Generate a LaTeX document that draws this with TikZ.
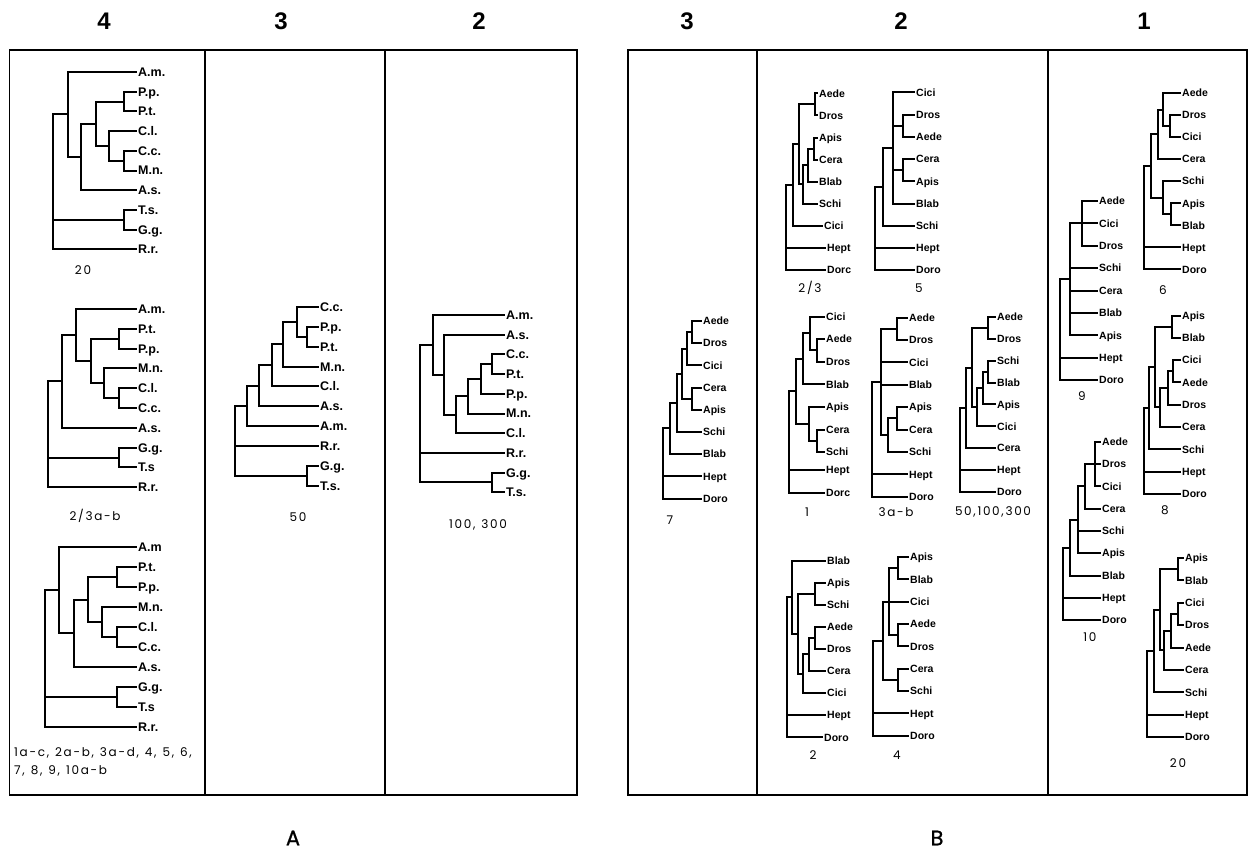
\documentclass[tikz,border=0pt]{standalone}
\usepackage{fontspec}
\setmainfont{Liberation Sans}
\newfontfamily\capfont[LetterSpace=14]{Poppins}
\newfontfamily\abfont[FakeBold=0.8]{Poppins}
\newcommand\capstyle{\capfont\fontsize{12}{18.5}\selectfont\spaceskip=6pt\relax}

% tree helpers: leaf rows are placed at ybase + ystep*k
\newcommand\ybase{0}
\newcommand\ystep{1}
\newcommand\settree[2]{\renewcommand\ybase{#1}\renewcommand\ystep{#2}}
\newcommand\lf[4]{\node[leaf] (#1) at (#2,{\ybase+\ystep*(#3)}) {#4};}
\newcommand\nd[3]{\coordinate (#1) at (#2,{\ybase+\ystep*(#3)});}
\newcommand\br[2]{\foreach \kid in {#2} {\draw[brline] (#1) |- (\kid);}}

\tikzset{
  brline/.style={line width=2pt},
  frameline/.style={line width=1.3pt},
  leafA/.style={anchor=west, inner sep=1pt, text height=8.9pt, text depth=0pt,
    font=\bfseries\fontsize{12.5}{12.5}\selectfont},
  leafB/.style={anchor=west, inner sep=1pt, text height=7.5pt, text depth=0pt,
    font=\bfseries\fontsize{10.5}{10.5}\selectfont},
  captxt/.style={inner sep=0pt, font=\capstyle},
  headtxt/.style={inner sep=0pt, font=\bfseries\fontsize{24}{24}\selectfont},
  paneltxt/.style={inner sep=0pt, font=\abfont\fontsize{21}{21}\selectfont}
}

\begin{document}
\begin{tikzpicture}[x=1pt,y=-1pt]
\fill[white] (0,0) rectangle (1252,864);

% ---------- frames ----------
\draw[frameline] (9.5,50) rectangle (577,795);
\draw[frameline] (205,50) -- (205,795);
\draw[frameline] (385,50) -- (385,795);
\draw[frameline] (628,50) rectangle (1247,795);
\draw[frameline] (757,50) -- (757,795);
\draw[frameline] (1048,50) -- (1048,795);

% ---------- column headings ----------
\node[headtxt] (hA4) at (104,21) {4};
\node[headtxt] (hA3) at (281,21) {3};
\node[headtxt] (hA2) at (479,21) {2};
\node[headtxt] (hB3) at (687,21) {3};
\node[headtxt] (hB2) at (901,21) {2};
\node[headtxt] (hB1) at (1144,21) {1};

\node[paneltxt] (pA) at (293,838) {A};
\node[paneltxt] (pB) at (937,838) {B};

% ================= panel A =================
\begin{scope}[leaf/.style=leafA]
% --- column 4, top ---
\settree{72}{19.7}
\lf{aa0}{137}{0}{A.m.}
\lf{aa1}{137}{1}{P.p.}
\lf{aa2}{137}{2}{P.t.}
\lf{aa3}{137}{3}{C.l.}
\lf{aa4}{137}{4}{C.c.}
\lf{aa5}{137}{5}{M.n.}
\lf{aa6}{137}{6}{A.s.}
\lf{aa7}{137}{7}{T.s.}
\lf{aa8}{137}{8}{G.g.}
\lf{aa9}{137}{9}{R.r.}
\nd{aaa}{124}{1.5}   \br{aaa}{aa1,aa2}
\nd{aab}{124}{4.5}   \br{aab}{aa4,aa5}
\nd{aac}{109}{3.75}  \br{aac}{aa3,aab}
\nd{aad}{96}{2.625}  \br{aad}{aaa,aac}
\nd{aae}{81}{4.3125} \br{aae}{aad,aa6}
\nd{aaf}{68}{2.156}  \br{aaf}{aa0,aae}
\nd{aag}{124}{7.5}   \br{aag}{aa7,aa8}
\nd{aar}{53}{5.6}    \br{aar}{aaf,aag,aa9}
\node[captxt] (caa) at (83,270) {20};

% --- column 4, middle ---
\settree{309}{19.8}
\lf{ab0}{137}{0}{A.m.}
\lf{ab1}{137}{1}{P.t.}
\lf{ab2}{137}{2}{P.p.}
\lf{ab3}{137}{3}{M.n.}
\lf{ab4}{137}{4}{C.l.}
\lf{ab5}{137}{5}{C.c.}
\lf{ab6}{137}{6}{A.s.}
\lf{ab7}{137}{7}{G.g.}
\lf{ab8}{137}{8}{T.s}
\lf{ab9}{137}{9}{R.r.}
\nd{aba}{119}{1.5}    \br{aba}{ab1,ab2}
\nd{abb}{119}{4.5}    \br{abb}{ab4,ab5}
\nd{abc}{104}{3.75}   \br{abc}{ab3,abb}
\nd{abd}{91}{2.625}   \br{abd}{aba,abc}
\nd{abe}{76}{1.3125}  \br{abe}{ab0,abd}
\nd{abf}{62}{3.656}   \br{abf}{abe,ab6}
\nd{abg}{119}{7.5}    \br{abg}{ab7,ab8}
\nd{abr}{48}{6.3}     \br{abr}{abf,abg,ab9}
\node[captxt] (cab) at (95,516) {2/3a-b};

% --- column 4, bottom ---
\settree{547}{20}
\lf{ac0}{137}{0}{A.m}
\lf{ac1}{137}{1}{P.t.}
\lf{ac2}{137}{2}{P.p.}
\lf{ac3}{137}{3}{M.n.}
\lf{ac4}{137}{4}{C.l.}
\lf{ac5}{137}{5}{C.c.}
\lf{ac6}{137}{6}{A.s.}
\lf{ac7}{137}{7}{G.g.}
\lf{ac8}{137}{8}{T.s}
\lf{ac9}{137}{9}{R.r.}
\nd{aca}{116.7}{1.5}   \br{aca}{ac1,ac2}
\nd{acb}{116.7}{4.5}   \br{acb}{ac4,ac5}
\nd{acc}{101.7}{3.75}  \br{acc}{ac3,acb}
\nd{acd}{88.3}{2.625}  \br{acd}{aca,acc}
\nd{ace}{74}{4.3125}   \br{ace}{acd,ac6}
\nd{acf}{59.3}{2.156}  \br{acf}{ac0,ace}
\nd{acg}{116.7}{7.5}   \br{acg}{ac7,ac8}
\nd{acr}{45}{5.6}      \br{acr}{acf,acg,ac9}
\node[captxt, anchor=west, align=left] (cac) at (14,762)
  {1a-c, 2a-b, 3a-d, 4, 5, 6,\\7, 8, 9, 10a-b};

% --- column 3 ---
\settree{307}{19.85}
\lf{ad0}{319}{0}{C.c.}
\lf{ad1}{319}{1}{P.p.}
\lf{ad2}{319}{2}{P.t.}
\lf{ad3}{319}{3}{M.n.}
\lf{ad4}{319}{4}{C.l.}
\lf{ad5}{319}{5}{A.s.}
\lf{ad6}{319}{6}{A.m.}
\lf{ad7}{319}{7}{R.r.}
\lf{ad8}{319}{8}{G.g.}
\lf{ad9}{319}{9}{T.s.}
\nd{ada}{307.3}{1.5}    \br{ada}{ad1,ad2}
\nd{adb}{296.7}{0.75}   \br{adb}{ad0,ada}
\nd{adc}{283.3}{1.875}  \br{adc}{adb,ad3}
\nd{add}{271.7}{2.9375} \br{add}{adc,ad4}
\nd{ade}{259.3}{3.97}   \br{ade}{add,ad5}
\nd{adf}{246.7}{4.98}   \br{adf}{ade,ad6}
\nd{adg}{307.3}{8.5}    \br{adg}{ad8,ad9}
\nd{adr}{235}{6.7}      \br{adr}{adf,ad7,adg}
\node[captxt] (cad) at (298,517) {50};

% --- column 2 ---
\settree{315}{19.7}
\lf{ae0}{505}{0}{A.m.}
\lf{ae1}{505}{1}{A.s.}
\lf{ae2}{505}{2}{C.c.}
\lf{ae3}{505}{3}{P.t.}
\lf{ae4}{505}{4}{P.p.}
\lf{ae5}{505}{5}{M.n.}
\lf{ae6}{505}{6}{C.l.}
\lf{ae7}{505}{7}{R.r.}
\lf{ae8}{505}{8}{G.g.}
\lf{ae9}{505}{9}{T.s.}
\nd{aea}{492.3}{2.5}   \br{aea}{ae2,ae3}
\nd{aeb}{481}{3.25}    \br{aeb}{aea,ae4}
\nd{aec}{468.3}{4.125} \br{aec}{aeb,ae5}
\nd{aed}{456}{5.06}    \br{aed}{aec,ae6}
\nd{aee}{444.3}{3.03}  \br{aee}{ae1,aed}
\nd{aef}{433.3}{1.52}  \br{aef}{ae0,aee}
\nd{aeg}{492.3}{8.5}   \br{aeg}{ae8,ae9}
\nd{aer}{420}{5}       \br{aer}{aef,ae7,aeg}
\node[captxt] (cae) at (478,525) {100, 300};
\end{scope}

% ================= panel B =================
\begin{scope}[leaf/.style=leafB]
% --- column 3 ---
\settree{321}{22.2}
\lf{ba0}{702}{0}{Aede}
\lf{ba1}{702}{1}{Dros}
\lf{ba2}{702}{2}{Cici}
\lf{ba3}{702}{3}{Cera}
\lf{ba4}{702}{4}{Apis}
\lf{ba5}{702}{5}{Schi}
\lf{ba6}{702}{6}{Blab}
\lf{ba7}{702}{7}{Hept}
\lf{ba8}{702}{8}{Doro}
\nd{baa}{691.7}{0.5}   \br{baa}{ba0,ba1}
\nd{bab}{687.3}{1.25}  \br{bab}{baa,ba2}
\nd{bac}{691.7}{3.5}   \br{bac}{ba3,ba4}
\nd{bad}{681.7}{2.375} \br{bad}{bab,bac}
\nd{bae}{676.7}{3.69}  \br{bae}{bad,ba5}
\nd{baf}{670}{4.84}    \br{baf}{bae,ba6}
\nd{bar}{663.3}{6.4}   \br{bar}{baf,ba7,ba8}
\node[captxt] (cba) at (670,520) {7};

% --- column 2: 2/3 ---
\settree{93.5}{22}
\lf{bb0}{818}{0}{Aede}
\lf{bb1}{818}{1}{Dros}
\lf{bb2}{818}{2}{Apis}
\lf{bb3}{818}{3}{Cera}
\lf{bb4}{818}{4}{Blab}
\lf{bb5}{818}{5}{Schi}
\lf{bb6}{823}{6}{Cici}
\lf{bb7}{826}{7}{Hept}
\lf{bb8}{826}{8}{Dorc}
\nd{bba}{815}{0.5}    \br{bba}{bb0,bb1}
\nd{bbb}{814}{2.5}    \br{bbb}{bb2,bb3}
\nd{bbc}{808.3}{3.25} \br{bbc}{bbb,bb4}
\nd{bbd}{803.3}{4.125}\br{bbd}{bbc,bb5}
\nd{bbe}{799}{2.3125} \br{bbe}{bba,bbd}
\nd{bbf}{793.3}{4.156}\br{bbf}{bbe,bb6}
\nd{bbr}{786}{6}      \br{bbr}{bbf,bb7,bb8}
\node[captxt] (cbb) at (810,288) {2/3};

% --- column 2: 5 ---
\settree{92.5}{22.2}
\lf{bc0}{915}{0}{Cici}
\lf{bc1}{915}{1}{Dros}
\lf{bc2}{915}{2}{Aede}
\lf{bc3}{915}{3}{Cera}
\lf{bc4}{915}{4}{Apis}
\lf{bc5}{915}{5}{Blab}
\lf{bc6}{915}{6}{Schi}
\lf{bc7}{915}{7}{Hept}
\lf{bc8}{915}{8}{Doro}
\nd{bca}{903.3}{1.5}  \br{bca}{bc1,bc2}
\nd{bcb}{903.3}{3.5}  \br{bcb}{bc3,bc4}
\nd{bcc}{893.3}{2.5}  \br{bcc}{bc0,bca,bcb,bc5}
\nd{bcd}{883.3}{4.25} \br{bcd}{bcc,bc6}
\nd{bcr}{875}{6.1}    \br{bcr}{bcd,bc7,bc8}
\node[captxt] (cbc) at (919,288) {5};

% --- column 2: 1 ---
\settree{316.5}{22.6}
\lf{bd0}{825}{0}{Cici}
\lf{bd1}{825}{1}{Aede}
\lf{bd2}{825}{2}{Dros}
\lf{bd3}{825}{3}{Blab}
\lf{bd4}{825}{4}{Apis}
\lf{bd5}{825}{5}{Cera}
\lf{bd6}{825}{6}{Schi}
\lf{bd7}{825}{6.8}{Hept}
\lf{bd8}{825}{7.8}{Dorc}
\nd{bda}{816.7}{1.5}  \br{bda}{bd1,bd2}
\nd{bdb}{810}{0.75}   \br{bdb}{bd0,bda}
\nd{bdc}{802.7}{1.875}\br{bdc}{bdb,bd3}
\nd{bdd}{816.7}{5.5}  \br{bdd}{bd5,bd6}
\nd{bde}{809.3}{4.75} \br{bde}{bd4,bdd}
\nd{bdf}{796}{3.31}   \br{bdf}{bdc,bde}
\nd{bdr}{789.3}{5.5}  \br{bdr}{bdf,bd7,bd8}
\node[captxt] (cbd) at (807,512) {1};

% --- column 2: 3a-b ---
\settree{317.5}{22.4}
\lf{be0}{908}{0}{Aede}
\lf{be1}{908}{1}{Dros}
\lf{be2}{908}{2}{Cici}
\lf{be3}{908}{3}{Blab}
\lf{be4}{908}{4}{Apis}
\lf{be5}{908}{5}{Cera}
\lf{be6}{908}{6}{Schi}
\lf{be7}{908}{7}{Hept}
\lf{be8}{908}{8}{Doro}
\nd{bea}{897.3}{0.5}  \br{bea}{be0,be1}
\nd{beb}{897.3}{4.5}  \br{beb}{be4,be5}
\nd{bec}{887.7}{5.25} \br{bec}{beb,be6}
\nd{bed}{880.7}{2.875}\br{bed}{bea,be2,be3,bec}
\nd{ber}{871.7}{5.4}  \br{ber}{bed,be7,be8}
\node[captxt] (cbe) at (896,512) {3a-b};

% --- column 2: 50,100,300 ---
\settree{317}{21.85}
\lf{bf0}{996}{0}{Aede}
\lf{bf1}{996}{1}{Dros}
\lf{bf2}{996}{2}{Schi}
\lf{bf3}{996}{3}{Blab}
\lf{bf4}{996}{4}{Apis}
\lf{bf5}{996}{5}{Cici}
\lf{bf6}{996}{6}{Cera}
\lf{bf7}{996}{7}{Hept}
\lf{bf8}{996}{8}{Doro}
\nd{bfa}{988.3}{0.5}   \br{bfa}{bf0,bf1}
\nd{bfb}{988.3}{2.5}   \br{bfb}{bf2,bf3}
\nd{bfc}{982.7}{3.25}  \br{bfc}{bfb,bf4}
\nd{bfd}{976.7}{4.125} \br{bfd}{bfc,bf5}
\nd{bfe}{971.7}{2.3125}\br{bfe}{bfa,bfd}
\nd{bff}{965.7}{4.156} \br{bff}{bfe,bf6}
\nd{bfr}{960}{6.1}     \br{bfr}{bff,bf7,bf8}
\node[captxt] (cbf) at (993,512) {50,100,300};

% --- column 2: 2 ---
\settree{560.5}{22.1}
\lf{bg0}{826}{0}{Blab}
\lf{bg1}{826}{1}{Apis}
\lf{bg2}{826}{2}{Schi}
\lf{bg3}{826}{3}{Aede}
\lf{bg4}{826}{4}{Dros}
\lf{bg5}{826}{5}{Cera}
\lf{bg6}{826}{6}{Cici}
\lf{bg7}{826}{7}{Hept}
\lf{bg8}{823}{8}{Doro}
\nd{bga}{815}{1.5}    \br{bga}{bg1,bg2}
\nd{bgb}{815}{3.5}    \br{bgb}{bg3,bg4}
\nd{bgc}{809.3}{4.25} \br{bgc}{bgb,bg5}
\nd{bgd}{803.3}{5.125}\br{bgd}{bgc,bg6}
\nd{bge}{798.3}{3.31} \br{bge}{bga,bgd}
\nd{bgf}{792.3}{1.656}\br{bgf}{bg0,bge}
\nd{bgr}{786.7}{4.8}  \br{bgr}{bgf,bg7,bg8}
\node[captxt] (cbg) at (813,755) {2};

% --- column 2: 4 ---
\settree{557}{22.35}
\lf{bh0}{909}{0}{Apis}
\lf{bh1}{909}{1}{Blab}
\lf{bh2}{909}{2}{Cici}
\lf{bh3}{909}{3}{Aede}
\lf{bh4}{909}{4}{Dros}
\lf{bh5}{909}{5}{Cera}
\lf{bh6}{909}{6}{Schi}
\lf{bh7}{909}{7}{Hept}
\lf{bh8}{909}{8}{Doro}
\nd{bha}{898.3}{0.5}  \br{bha}{bh0,bh1}
\nd{bhb}{898.3}{3.5}  \br{bhb}{bh3,bh4}
\nd{bhc}{889.3}{2}    \br{bhc}{bha,bh2,bhb}
\nd{bhd}{898.3}{5.5}  \br{bhd}{bh5,bh6}
\nd{bhe}{882.7}{3.75} \br{bhe}{bhc,bhd}
\nd{bhr}{873.3}{5.9}  \br{bhr}{bhe,bh7,bh8}
\node[captxt] (cbh) at (897,755) {4};

% --- column 1: 6 ---
\settree{93}{22.05}
\lf{bi0}{1181}{0}{Aede}
\lf{bi1}{1181}{1}{Dros}
\lf{bi2}{1181}{2}{Cici}
\lf{bi3}{1181}{3}{Cera}
\lf{bi4}{1181}{4}{Schi}
\lf{bi5}{1181}{5}{Apis}
\lf{bi6}{1181}{6}{Blab}
\lf{bi7}{1181}{7}{Hept}
\lf{bi8}{1181}{8}{Doro}
\nd{bia}{1170}{1.5}   \br{bia}{bi1,bi2}
\nd{bib}{1163.3}{0.75}\br{bib}{bi0,bia}
\nd{bic}{1158.3}{1.875}\br{bic}{bib,bi3}
\nd{bid}{1171}{5.5}   \br{bid}{bi5,bi6}
\nd{bie}{1163.3}{4.75}\br{bie}{bi4,bid}
\nd{bif}{1151}{3.31}  \br{bif}{bic,bie}
\nd{bir}{1144.3}{5.7} \br{bir}{bif,bi7,bi8}
\node[captxt] (cbi) at (1163,290) {6};

% --- column 1: 9 ---
\settree{201}{22.4}
\lf{bj0}{1098}{0}{Aede}
\lf{bj1}{1098}{1}{Cici}
\lf{bj2}{1098}{2}{Dros}
\lf{bj3}{1098}{3}{Schi}
\lf{bj4}{1098}{4}{Cera}
\lf{bj5}{1098}{5}{Blab}
\lf{bj6}{1098}{6}{Apis}
\lf{bj7}{1098}{7}{Hept}
\lf{bj8}{1098}{8}{Doro}
\nd{bja}{1081.7}{1}   \br{bja}{bj0,bj1,bj2}
\nd{bjb}{1070}{3.5}   \br{bjb}{bja,bj3,bj4,bj5,bj6}
\nd{bjr}{1060}{5.75}  \br{bjr}{bjb,bj7,bj8}
\node[captxt] (cbj) at (1082,396) {9};

% --- column 1: 8 ---
\settree{315.5}{22.3}
\lf{bk0}{1181}{0}{Apis}
\lf{bk1}{1181}{1}{Blab}
\lf{bk2}{1181}{2}{Cici}
\lf{bk3}{1181}{3}{Aede}
\lf{bk4}{1181}{4}{Dros}
\lf{bk5}{1181}{5}{Cera}
\lf{bk6}{1181}{6}{Schi}
\lf{bk7}{1181}{7}{Hept}
\lf{bk8}{1181}{8}{Doro}
\nd{bka}{1171.7}{0.5}  \br{bka}{bk0,bk1}
\nd{bkb}{1173.3}{2.5}  \br{bkb}{bk2,bk3}
\nd{bkc}{1168.3}{3.25} \br{bkc}{bkb,bk4}
\nd{bkd}{1160}{4.125}  \br{bkd}{bkc,bk5}
\nd{bke}{1155}{2.3125} \br{bke}{bka,bkd}
\nd{bkf}{1149}{4.156}  \br{bkf}{bke,bk6}
\nd{bkr}{1144}{6.1}    \br{bkr}{bkf,bk7,bk8}
\node[captxt] (cbk) at (1165,510) {8};

% --- column 1: 10 ---
\settree{441.7}{22.3}
\lf{bl0}{1101}{0}{Aede}
\lf{bl1}{1101}{1}{Dros}
\lf{bl2}{1101}{2}{Cici}
\lf{bl3}{1101}{3}{Cera}
\lf{bl4}{1101}{4}{Schi}
\lf{bl5}{1101}{5}{Apis}
\lf{bl6}{1101}{6}{Blab}
\lf{bl7}{1101}{7}{Hept}
\lf{bl8}{1101}{8}{Doro}
\nd{bla}{1095}{1}     \br{bla}{bl0,bl1,bl2}
\nd{blb}{1085}{2}     \br{blb}{bla,bl3}
\nd{blc}{1078.3}{3.5} \br{blc}{blb,bl4,bl5}
\nd{bld}{1070}{4.75}  \br{bld}{blc,bl6}
\nd{blr}{1063.3}{6.4} \br{blr}{bld,bl7,bl8}
\node[captxt] (cbl) at (1090,637) {10};

% --- column 1: 20 ---
\settree{558}{22.4}
\lf{bm0}{1184}{0}{Apis}
\lf{bm1}{1184}{1}{Blab}
\lf{bm2}{1184}{2}{Cici}
\lf{bm3}{1184}{3}{Dros}
\lf{bm4}{1184}{4}{Aede}
\lf{bm5}{1184}{5}{Cera}
\lf{bm6}{1184}{6}{Schi}
\lf{bm7}{1184}{7}{Hept}
\lf{bm8}{1184}{8}{Doro}
\nd{bma}{1177.7}{0.5}  \br{bma}{bm0,bm1}
\nd{bmb}{1177.7}{2.5}  \br{bmb}{bm2,bm3}
\nd{bmc}{1171}{3.25}   \br{bmc}{bmb,bm4}
\nd{bmd}{1164.3}{4.125}\br{bmd}{bmc,bm5}
\nd{bme}{1160}{2.3125} \br{bme}{bma,bmd}
\nd{bmf}{1154.3}{4.156}\br{bmf}{bme,bm6}
\nd{bmr}{1146.7}{6.1}  \br{bmr}{bmf,bm7,bm8}
\node[captxt] (cbm) at (1178,763) {20};
\end{scope}
\end{tikzpicture}
\end{document}
